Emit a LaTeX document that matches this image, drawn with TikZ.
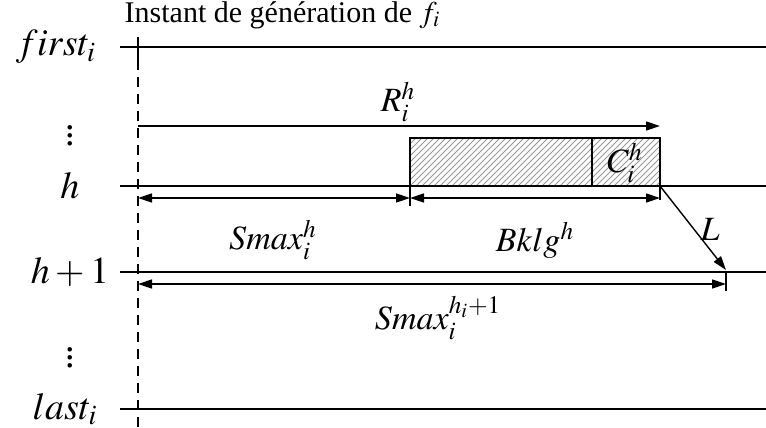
\documentclass[tikz,border=0pt]{standalone}
\usepackage{mathptmx}
\usepackage{fontspec}
\setmainfont{Liberation Serif}
\usetikzlibrary{arrows.meta,patterns}

\begin{document}
\begin{tikzpicture}[x=.5pt,y=-.5pt,line width=.7pt,
  dim/.style={{Triangle[length=7pt,width=4.5pt]}-{Triangle[length=7pt,width=4.5pt]}},
  lbl/.style={font=\fontsize{17}{19}\selectfont,inner sep=0pt},
  lane/.style={font=\fontsize{19}{21}\selectfont,inner sep=0pt}]
\useasboundingbox (0,0) rectangle (766,428);
% lanes
\foreach \y in {47,186,272,409}\draw (120,\y)--(766,\y);
\node[lane] (first) at (56,47){$first_i$};
\node[lane] (dotsA) at (70,130){$\vdots$};
\node[lane] (lh) at (70,186){$h$};
\node[lane] (lh1) at (70,272){$h+1$};
\node[lane] (dotsB) at (70,352){$\vdots$};
\node[lane] (last) at (65,409){$last_i$};
% instant of generation
\node[font=\fontsize{15}{17}\selectfont,anchor=west,inner sep=0pt] (gen) at (124,15){Instant de génération de $f_i$};
\coordinate (t0) at (138,37);\coordinate (t1) at (138,60);\coordinate (t2) at (138,428);
\draw (t0)--(t1);
\draw[dash pattern=on 5pt off 3.5pt] (t1)--(t2);
% backlog box
\draw[pattern=north east lines,pattern color=black!40] (410,138) rectangle (660,186);
\draw (410,186)--(410,206) (660,186)--(660,200) (592,138)--(592,186);
\node[lbl] (C) at (625,163){$C_i^h$};
% dimensions
\coordinate (r0) at (138,126);\coordinate (r1) at (660,126);
\draw[-{Triangle[length=7pt,width=4.5pt]}] (r0)--(r1);
\node[lbl] (R) at (398,102){$R_i^h$};
\coordinate (s0) at (138,198);\coordinate (b0) at (410,198);\coordinate (b1) at (660,198);
\draw[dim] (s0)--(b0);
\draw[dim] (b0)--(b1);
\node[lbl] (Smax) at (273,240){$Smax_i^h$};
\node[lbl] (Bklg) at (535,240){$Bklg^h$};
\coordinate (l0) at (660,186);\coordinate (l1) at (726,270);
\draw[-{Triangle[length=7pt,width=4.5pt]}] (l0)--(l1);
\node[lbl] (L) at (710,229){$L$};
\coordinate (m0) at (138,284);\coordinate (m1) at (726,284);
\draw (726,272)--(726,291);
\draw[dim] (m0)--(m1);
\node[lbl] (Smax1) at (438,318){$Smax_i^{h_i+1}$};
\end{tikzpicture}
\end{document}
